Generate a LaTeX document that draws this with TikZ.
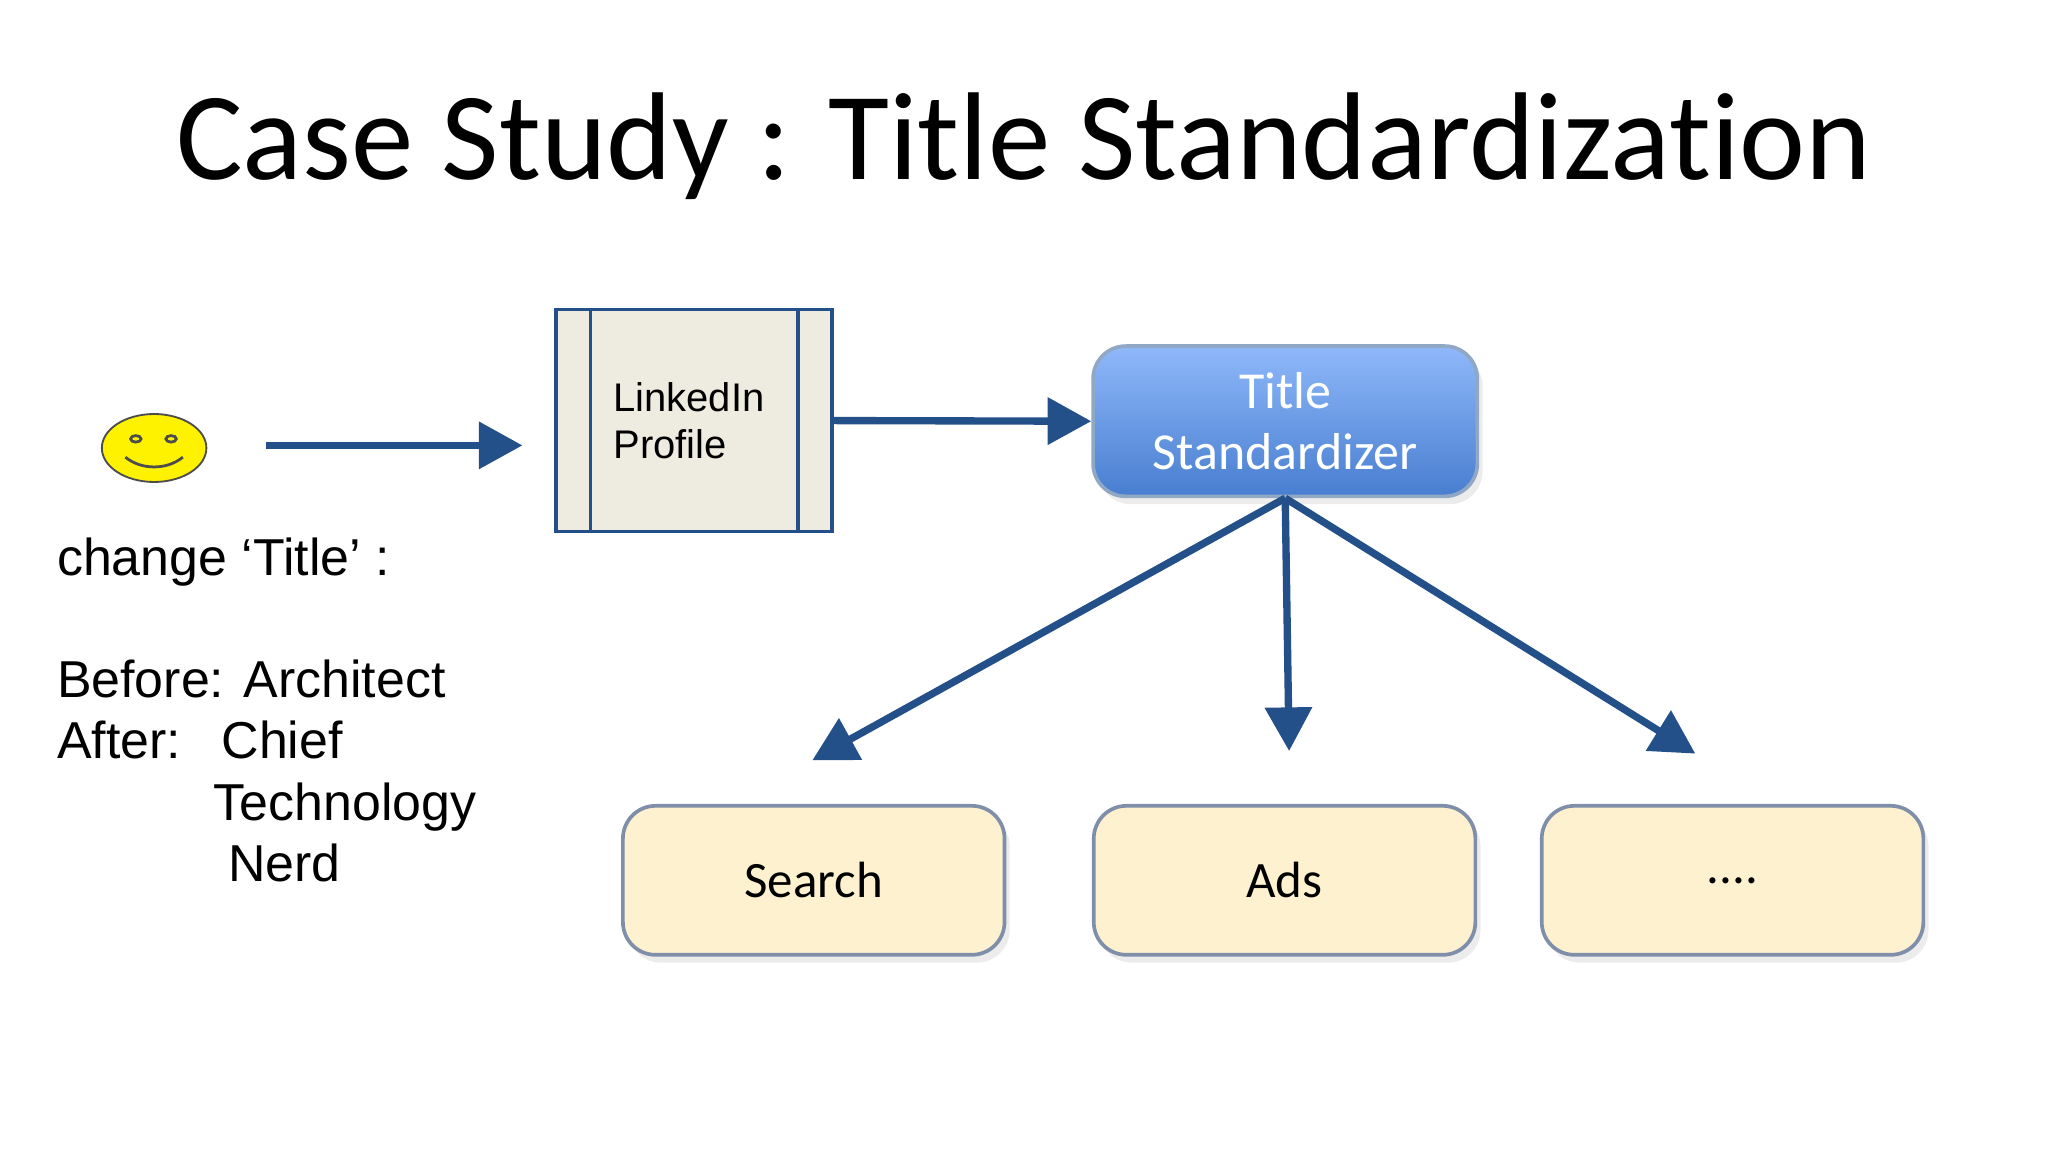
\documentclass[tikz,border=0pt]{standalone}
\usepackage{fontspec}
\setmainfont{Carlito}[Ligatures=NoCommon]
\newfontfamily\arial{Liberation Sans}
\usetikzlibrary{arrows.meta,shadows,shapes.geometric}
\definecolor{navy}{HTML}{24508A}
\definecolor{lpfill}{HTML}{EEECE1}
\definecolor{ybox}{HTML}{FDF1CF}
\definecolor{yedge}{HTML}{7F8FA9}
\tikzset{
 conn/.style={navy,line width=1.6pt,-{Triangle[length=9.5pt,width=10pt]}},
 outbox/.style={draw=yedge,line width=0.8pt,fill=ybox,rounded corners=2.5mm,minimum width=2.92cm,minimum height=1.14cm,font=\fontsize{11.1}{13}\selectfont,drop shadow={opacity=0.15,shadow xshift=0.4mm,shadow yshift=-0.6mm}},
 lefttext/.style={anchor=base west,font=\arial\fontsize{11.3}{13}\selectfont,inner sep=0pt},
}
\begin{document}
\begin{tikzpicture}[x=0.01cm,y=-0.01cm]
\useasboundingbox (0,0) rectangle (1568,882);
\node[font=\fontsize{27.2}{31}\selectfont] (title) at (784,112) {Case Study : Title Standardization};
% smiley
\node[draw=black!70,fill=yellow,ellipse,minimum width=0.8cm,minimum height=0.52cm,inner sep=0pt] (smile) at (118,343) {};
\draw[black!70,line width=0.6pt] (104,336) ellipse (4 and 2.5) (131,336) ellipse (4 and 2.5);
\draw[black!70,line width=0.6pt] (96,350) .. controls (108,360) and (128,360) .. (140,350);
\coordinate (a1) at (204,341);
\coordinate (a2) at (400,341);
\draw[conn] (a1) -- (a2);
% LinkedIn
\node[draw=navy,fill=lpfill,line width=0.8pt,minimum width=2.11cm,minimum height=1.70cm,inner sep=0pt] (li) at (531.5,322) {};
\draw[navy,line width=0.8pt] (452,237) -- (452,407) (611,237) -- (611,407);
\node[lefttext,font=\arial\fontsize{8.7}{10}\selectfont] (lt1) at (469,315) {LinkedIn};
\node[lefttext,font=\arial\fontsize{8.7}{10}\selectfont] (lt2) at (469,351) {Profile};
% Title standardizer
\node[draw=navy!50,line width=0.8pt,rounded corners=2.5mm,top color={rgb,255:red,143;green,184;blue,250},bottom color={rgb,255:red,72;green,126;blue,208},minimum width=2.94cm,minimum height=1.15cm,text=white,font=\fontsize{11.3}{13.4}\selectfont,align=center,drop shadow={opacity=0.15,shadow xshift=0.4mm,shadow yshift=-0.6mm}] (ts) at (984,322.5) {Title\\Standardizer};
\draw[conn] (li.east) -- (ts.west);
\node[outbox] (s) at (623,674) {Search};
\node[outbox] (ads) at (983.5,674) {Ads};
\node[outbox] (dots) at (1326.5,674) {....};
\coordinate (t1) at (622,582);
\coordinate (t2) at (987,575);
\coordinate (t3) at (1298,577);
\draw[conn] (ts.south) -- (t1);
\draw[conn] (ts.south) -- (t2);
\draw[conn] (ts.south) -- (t3);
% left text
\node[lefttext] (c1) at (43,441) {change ‘Title’ :};
\node[lefttext] (c2) at (43,534) {Before: Architect};
\node[lefttext] (c3) at (43,581) {After:};
\node[lefttext] (c4) at (169,581) {Chief};
\node[lefttext] (c5) at (163,628) {Technology};
\node[lefttext] (c6) at (174,675) {Nerd};
\end{tikzpicture}
\end{document}
